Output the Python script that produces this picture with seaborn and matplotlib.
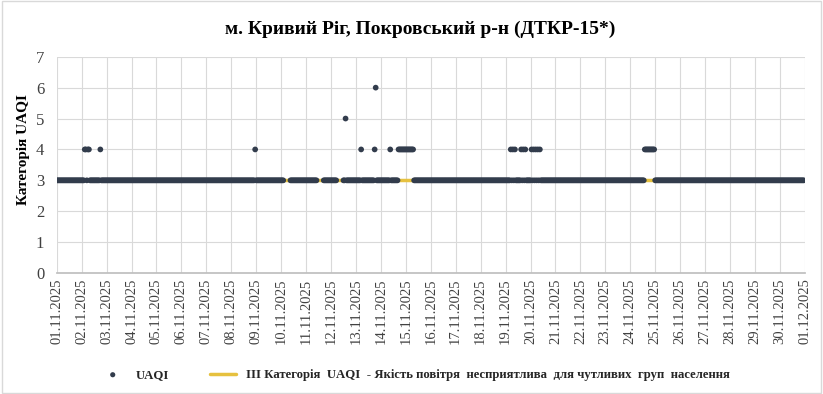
import numpy as np
import pandas as pd
import seaborn as sns
import matplotlib.pyplot as plt
import matplotlib.dates as mdates
from matplotlib.patches import Rectangle

# Hourly UAQI category, Nov 2025 (hours counted from 01.11.2025 00:00)
START = "2025-11-01 00:00"
N_HOURS = 720
BASE_CATEGORY = 3
hours_cat4 = [27, 28, 30, 31, 42, 191, 293, 306, 321,
              329, 330, 331, 332, 333, 334, 335, 336, 337, 338, 339, 340, 341, 342, 343,
              437, 439, 441, 447, 449, 451, 457, 459, 461, 463, 465,
              566, 567, 568, 569, 570, 571, 572, 573, 574, 575]
hours_cat5 = [278]
hours_cat6 = [307]
hours_missing = [219, 220, 221, 222, 223, 224,
                 251, 252, 253, 254, 255, 256,
                 270, 271, 272, 273, 274, 275]
threshold_level = 3  # III категорія

series_label = "UAQI"
threshold_label = "III Категорія  UAQI  - Якість повітря  несприятлива  для чутливих  груп  населення"
title = "м. Кривий Ріг, Покровський р-н (ДТКР-15*)"

# build the table
times = pd.date_range(START, periods=N_HOURS, freq="h")
uaqi = pd.Series(BASE_CATEGORY, index=times, dtype=float)
uaqi.iloc[hours_cat4] = 4
uaqi.iloc[hours_cat5] = 5
uaqi.iloc[hours_cat6] = 6
uaqi.iloc[hours_missing] = np.nan
df = pd.DataFrame({"time": times, "uaqi": uaqi.values, "threshold": threshold_level})

sns.set_theme(style="whitegrid")
plt.rcParams["font.family"] = ["Liberation Serif", "DejaVu Serif"]

fig = plt.figure(figsize=(8.23, 3.94), dpi=100)
ax = fig.add_axes([0.0689, 0.307, 0.909, 0.549])

sns.lineplot(data=df, x="time", y="threshold", color="#E6C13F", linewidth=2.5,
             label=threshold_label, ax=ax, zorder=2)
sns.scatterplot(data=df.dropna(), x="time", y="uaqi", color="#323C4C", s=17,
                edgecolor="none", label=series_label, ax=ax, zorder=3)

ax.set_ylim(0, 7)
ax.set_yticks(range(0, 8))
ax.set_xlim(pd.Timestamp("2025-11-01"), pd.Timestamp("2025-12-01"))
ax.xaxis.set_major_locator(mdates.DayLocator())
ax.xaxis.set_major_formatter(mdates.DateFormatter("%d.%m.%Y"))
ax.tick_params(axis="x", rotation=90, labelsize=10.5, colors="#404040", pad=4, length=0)
ax.tick_params(axis="y", labelsize=12, colors="#404040", pad=9, length=0)
ax.grid(True, color="#D9D9D9", linewidth=0.8)
for side in ["top", "right", "left"]:
    ax.spines[side].set_visible(False)
ax.spines["bottom"].set_color("#BFBFBF")
ax.set_xlabel("")
ax.set_ylabel("Категорія UAQI", fontsize=11, fontweight="bold", color="black")
ax.yaxis.set_label_coords(-0.036, 0.57)

fig.suptitle(title, x=0.51, y=0.948, fontsize=14, fontweight="bold", color="black")

# legend at the bottom, dot first
handles, labels = ax.get_legend_handles_labels()
ax.get_legend().remove()
leg = fig.legend(handles[::-1], labels[::-1], loc="center", bbox_to_anchor=(0.504, 0.048),
                 ncol=2, frameon=False, handlelength=2.0, columnspacing=3.2, markerscale=0.9,
                 prop={"family": "Liberation Serif", "weight": "bold", "size": 9.2})

fig.patches.append(Rectangle((0.002, 0.003), 0.995, 0.994, transform=fig.transFigure,
                             fill=False, edgecolor="#D9D9D9", linewidth=1))

fig.savefig("out.png", dpi=100)
